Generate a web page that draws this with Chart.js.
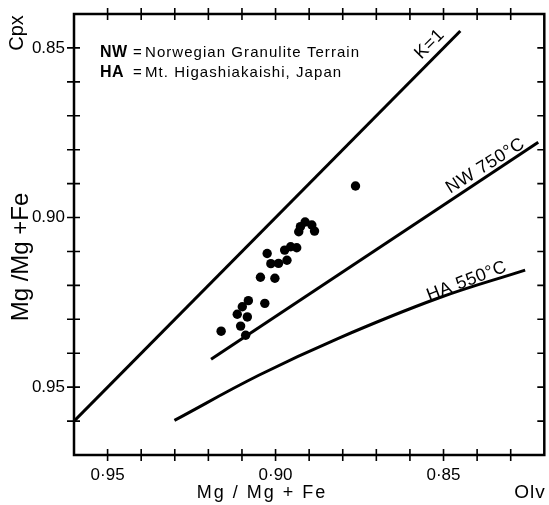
<!DOCTYPE html>
<html><head><meta charset="utf-8">
<script src="https://cdn.jsdelivr.net/npm/chart.js@4/dist/chart.umd.min.js"></script>
<style>html,body{margin:0;padding:0;background:#fff}#wrap{width:549px;height:505px}</style>
</head><body><div id="wrap"><canvas id="c" width="549" height="505"></canvas></div>
<script>
// ---- data ----
const sampleOlv = [0.9162,0.9089,0.9104,0.9084,0.9114,0.9099,0.9081,0.9032,0.9045,0.9002,0.9025,0.9014,0.8991,0.8966,0.8973,0.8955,0.8937,0.8931,0.8926,0.8912,0.8892,0.8884,0.8762];
const sampleCpx = [0.9335,0.9347,0.9320,0.9293,0.9285,0.9263,0.9245,0.9253,0.9176,0.9179,0.9106,0.9136,0.9135,0.9126,0.9096,0.9086,0.9089,0.9042,0.9027,0.9013,0.9022,0.9040,0.8907];
const k1Olv = [0.96, 0.845];
const k1Cpx = [0.96, 0.845];
const nwOlv = [0.9192, 0.8218];
const nwCpx = [0.9418, 0.8778];
const haOlv = [0.9301, 0.9050, 0.8813, 0.8517, 0.8257];
const haCpx = [0.9598, 0.9465, 0.9356, 0.9238, 0.9155];
const xTickValues = [0.95, 0.90, 0.85];
const xTickLabels = ["0·95", "0·90", "0·85"];
const yTickValues = [0.85, 0.90, 0.95];
const yTickLabels = ["0.85", "0.90", "0.95"];
const curveLabels = ["K=1", "NW 750°C", "HA 550°C"];
const legendKeys = ["NW", "HA"];
const legendTexts = ["Norwegian Granulite Terrain", "Mt. Higashiakaishi, Japan"];
const xTitle = "Mg / Mg + Fe";
const yTitle = "Mg /Mg +Fe";
const xCorner = "Olv";
const yCorner = "Cpx";

// ---- label anchors (data coords) & angles ----
const curveLabelAnchors = [
  {x:0.8541, y:0.8489, angle:-45},
  {x:0.8375, y:0.8848, angle:-32},
  {x:0.8431, y:0.9188, angle:-21}
];

const pts = (xs, ys) => xs.map((x, i) => ({x, y: ys[i]}));
const FONT = '"Liberation Sans", Arial, sans-serif';

function tickLabel(vals, labels, v) {
  const i = vals.findIndex(t => Math.abs(t - v) < 1e-6);
  return i >= 0 ? labels[i] : '';
}

const decor = {
  id: 'decor',
  afterDraw(chart) {
    const ctx = chart.ctx, a = chart.chartArea;
    const xs = chart.scales.x, ys = chart.scales.y;
    ctx.save();
    ctx.strokeStyle = '#000'; ctx.fillStyle = '#000';
    // frame
    ctx.lineWidth = 2.5;
    ctx.strokeRect(a.left, a.top, a.right - a.left, a.bottom - a.top);
    // ticks
    ctx.lineWidth = 1.6;
    ctx.beginPath();
    xs.ticks.forEach(t => {
      const px = xs.getPixelForValue(t.value);
      if (px < a.left + 3 || px > a.right - 3) return;
      ctx.moveTo(px, a.bottom - 6); ctx.lineTo(px, a.bottom + 6);
      ctx.moveTo(px, a.top - 6); ctx.lineTo(px, a.top + 6);
    });
    ys.ticks.forEach(t => {
      const py = ys.getPixelForValue(t.value);
      if (py < a.top + 3 || py > a.bottom - 3) return;
      ctx.moveTo(a.left - 7, py); ctx.lineTo(a.left + 6, py);
      ctx.moveTo(a.right - 7, py); ctx.lineTo(a.right, py);
    });
    ctx.stroke();
    // curve labels
    ctx.font = '18px ' + FONT;
    ctx.letterSpacing = '0.5px';
    ctx.textAlign = 'center'; ctx.textBaseline = 'middle';
    curveLabels.forEach((txt, i) => {
      const an = curveLabelAnchors[i];
      ctx.save();
      ctx.translate(xs.getPixelForValue(an.x), ys.getPixelForValue(an.y));
      ctx.rotate(an.angle * Math.PI / 180);
      ctx.fillText(txt, 0, 0);
      ctx.restore();
    });
    // legend text
    ctx.textAlign = 'left'; ctx.textBaseline = 'middle';
    legendKeys.forEach((k, i) => {
      const y = 53 + i * 20;
      ctx.letterSpacing = '0.5px';
      ctx.font = 'bold 16px ' + FONT;
      ctx.fillText(k, 100, y);
      ctx.font = '15px ' + FONT;
      ctx.fillText('=', 133, y);
      ctx.letterSpacing = '1.05px';
      ctx.fillText(legendTexts[i], 145, y);
    });
    // axis titles
    ctx.font = '18px ' + FONT;
    ctx.letterSpacing = '2px';
    ctx.textAlign = 'center';
    ctx.fillText(xTitle, 262, 493);
    ctx.font = '19px ' + FONT;
    ctx.letterSpacing = '1px';
    ctx.fillText(xCorner, 530, 493);
    ctx.letterSpacing = '0px';
    ctx.save();
    ctx.translate(21, 257); ctx.rotate(-Math.PI / 2);
    ctx.font = '24px ' + FONT;
    ctx.fillText(yTitle, 0, 0);
    ctx.restore();
    ctx.save();
    ctx.translate(17, 33); ctx.rotate(-Math.PI / 2);
    ctx.font = '20px ' + FONT;
    ctx.fillText(yCorner, 0, 0);
    ctx.restore();
    ctx.restore();
  }
};

const lineDs = (label, data, tension) => ({
  label, data, showLine: true, borderColor: '#000', borderWidth: 3,
  pointRadius: 0, tension: tension || 0, fill: false, order: 2
});

new Chart(document.getElementById('c'), {
  type: 'scatter',
  data: {
    datasets: [
      lineDs(curveLabels[0], pts(k1Olv, k1Cpx)),
      lineDs(curveLabels[1], pts(nwOlv, nwCpx)),
      lineDs(curveLabels[2], pts(haOlv, haCpx), 0.4),
      {label: 'samples', data: pts(sampleOlv, sampleCpx), pointRadius: 4.7,
       pointBackgroundColor: '#000', pointBorderColor: '#000', pointBorderWidth: 0, order: 1}
    ]
  },
  options: {
    responsive: false, animation: false, devicePixelRatio: 1,
    layout: {padding: {left: 0, top: 14, right: 0, bottom: 0}},
    plugins: {legend: {display: false}, tooltip: {enabled: false}},
    scales: {
      x: {
        type: 'linear', reverse: true, min: 0.82, max: 0.96,
        grid: {display: false, drawTicks: false}, border: {display: false},
        ticks: {stepSize: 0.01, autoSkip: false, maxRotation: 0, padding: 10, color: '#000',
          font: {family: FONT, size: 17},
          callback: v => tickLabel(xTickValues, xTickLabels, v)},
        afterFit: s => { s.height = 50; s.paddingLeft = 0; s.paddingRight = 0; }
      },
      y: {
        type: 'linear', reverse: true, min: 0.84, max: 0.97,
        grid: {display: false, drawTicks: false}, border: {display: false},
        ticks: {stepSize: 0.01, autoSkip: false, padding: 9, color: '#000',
          font: {family: FONT, size: 17},
          callback: v => tickLabel(yTickValues, yTickLabels, v)},
        afterFit: s => { s.width = 74; s.paddingTop = 0; s.paddingBottom = 0; }
      }
    }
  },
  plugins: [decor]
});
</script></body></html>
